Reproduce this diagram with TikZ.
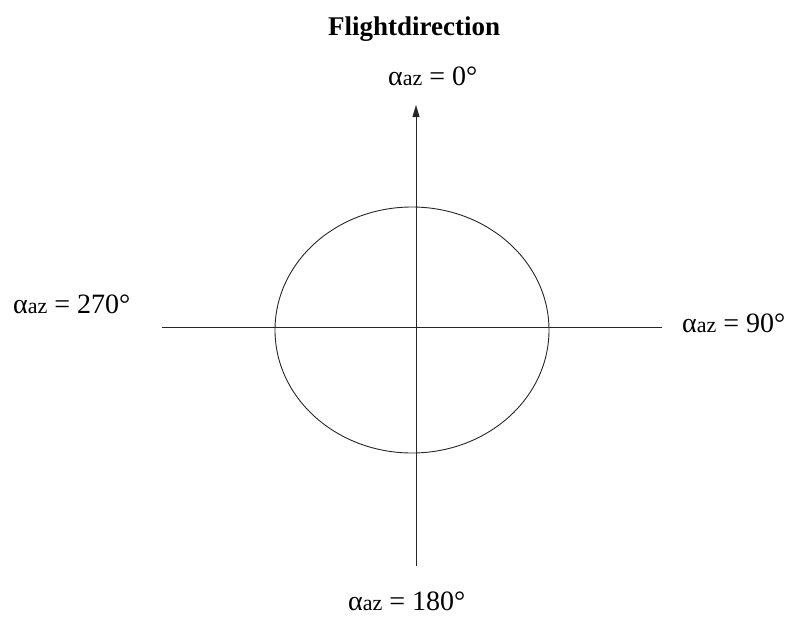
\documentclass[tikz,border=0pt]{standalone}
\usepackage{fontspec}
\setmainfont{Liberation Serif}
\usetikzlibrary{arrows.meta}

\newcommand{\azlabel}[1]{{\fontsize{28}{28}\selectfont α}{\fontsize{22}{28}\selectfont az}\hspace{7pt}=\hspace{7pt}#1°}

\begin{document}
\begin{tikzpicture}[x=1pt, y=-1pt,
  axis/.style={line width=0.9pt, color=black!85},
  lbl/.style={font=\fontsize{28}{30}\selectfont, inner sep=0pt, anchor=base west},
  ttl/.style={font=\fontsize{27}{30}\selectfont\bfseries, inner sep=0pt, anchor=base west}
]
\useasboundingbox (0,0) rectangle (792,616);

% axes end points
\coordinate (top)    at (416,105);
\coordinate (bottom) at (416,566);
\coordinate (left)   at (162,327);
\coordinate (right)  at (662,327);

\node[ttl] (title) at (328,35)  {Flightdirection};
\node[lbl] (az0)   at (388,85)  {\azlabel{0}};
\node[lbl] (az270) at (13,313)  {\azlabel{270}};
\node[lbl] (az90)  at (682,332) {\azlabel{90}};
\node[lbl] (az180) at (348,610) {\azlabel{180}};

\draw[axis, -{Triangle[length=12pt,width=7pt]}] (bottom) -- (top);
\draw[axis] (left) -- (right);
\draw[axis] (412,330) ellipse [x radius=137, y radius=123];

\end{tikzpicture}
\end{document}
